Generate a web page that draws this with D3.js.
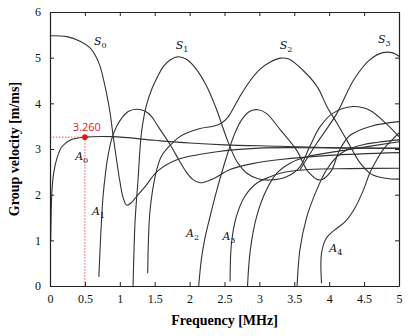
<!DOCTYPE html>
<html><head><meta charset="utf-8">
<script src="https://cdn.jsdelivr.net/npm/d3@7"></script>
<style>body{margin:0;background:#fff}</style>
</head><body>
<svg id="c" width="413" height="336"></svg>
<script>
// ---- data (frequency MHz, group velocity m/ms) ----
const xTicks = [0, 0.5, 1, 1.5, 2, 2.5, 3, 3.5, 4, 4.5, 5];
const yTicks = [0, 1, 2, 3, 4, 5, 6];
const A0 = [[0.01,1.0],[0.015,1.45],[0.025,2.0],[0.05,2.45],[0.1,2.8],[0.17,3.05],[0.3,3.2],[0.5,3.26],[0.9,3.27],[1.5,3.19],[2.0,3.13],[2.5,3.09],[3.3,3.06],[4,3.03],[5,3.02]];
const S0 = [[0,5.48],[0.24,5.46],[0.43,5.36],[0.57,5.22],[0.66,5.02],[0.72,4.8],[0.81,4.22],[0.86,3.8],[0.9,3.34],[0.95,2.8],[1.0,2.3],[1.05,1.92],[1.1,1.77],[1.17,1.83],[1.24,1.96],[1.36,2.17],[1.53,2.5],[1.81,2.76],[2.39,2.94],[3.0,3.02],[3.5,3.03],[5,3.01]];
const A1 = [[0.70,0.2],[0.72,0.9],[0.74,1.5],[0.76,1.96],[0.79,2.4],[0.82,2.75],[0.88,3.2],[0.95,3.48],[1.03,3.68],[1.12,3.82],[1.24,3.87],[1.36,3.83],[1.45,3.72],[1.55,3.49],[1.72,3.1],[1.85,2.75],[1.95,2.5],[2.05,2.33],[2.15,2.26],[2.34,2.35],[2.58,2.55],[2.9,2.68],[3.3,2.77],[4,2.86],[5,2.92]];
const S1 = [[1.19,0],[1.2,0.6],[1.22,1.45],[1.26,2.3],[1.31,3.35],[1.38,3.95],[1.46,4.32],[1.53,4.55],[1.62,4.8],[1.72,4.95],[1.84,5.02],[1.96,4.96],[2.1,4.74],[2.25,4.36],[2.39,3.85],[2.54,3.2],[2.68,2.72],[2.82,2.47],[2.98,2.35],[3.15,2.32],[3.39,2.39],[3.58,2.61],[3.72,3.05],[3.87,3.49],[4.05,3.78],[4.34,3.93],[4.58,3.85],[4.82,3.55],[5.0,3.27]];
const S2 = [[1.40,0.28],[1.41,1.0],[1.43,1.6],[1.47,2.1],[1.53,2.55],[1.6,2.85],[1.72,3.08],[1.85,3.26],[1.96,3.35],[2.15,3.45],[2.34,3.5],[2.45,3.56],[2.55,3.7],[2.72,4.15],[2.87,4.5],[3.01,4.75],[3.15,4.9],[3.3,4.99],[3.42,4.97],[3.62,4.73],[3.83,4.36],[3.97,3.92],[4.11,3.57],[4.25,3.2],[4.44,2.7],[4.6,2.45],[4.8,2.36],[5.0,2.34]];
const S3 = [[3.58,2.54],[3.82,3.12],[4.11,3.78],[4.35,4.51],[4.58,4.95],[4.77,5.11],[4.92,5.1],[5.0,5.03]];
const A2 = [[2.13,0],[2.17,0.6],[2.22,1.05],[2.29,1.5],[2.39,2.1],[2.53,2.83],[2.65,3.35],[2.75,3.65],[2.87,3.83],[2.98,3.86],[3.1,3.78],[3.3,3.42],[3.53,2.98],[3.7,2.5],[3.87,2.32],[4.02,2.5],[4.15,2.98],[4.3,3.3],[4.6,3.5],[5,3.6]];
const A3 = [[2.58,0.1],[2.6,0.93],[2.67,1.52],[2.79,1.96],[2.96,2.25],[3.15,2.39],[3.3,2.47],[3.7,2.55],[4.3,2.57],[5,2.58]];
const M5 = [[2.83,0],[2.87,0.79],[2.96,1.52],[3.1,2.1],[3.25,2.47],[3.44,2.69],[3.68,2.83],[4.25,2.98],[5,3.16]];
const M6 = [[3.54,0],[3.58,0.79],[3.68,1.52],[3.82,2.1],[3.96,2.54],[4.11,2.83],[4.25,2.98],[4.5,3.1],[5,3.2]];
const A4 = [[3.89,0.06],[3.89,0.72],[3.96,1.05],[4.08,1.23],[4.23,1.41],[4.35,1.66],[4.49,2.1],[4.58,2.47],[4.68,2.76],[4.77,2.98],[4.9,3.2],[5,3.35]];
const modes = [A0, S0, A1, S1, S2, S3, A2, A3, M5, M6, A4];
const labels = [["S","0",0.63,5.27],["S","1",1.8,5.18],["S","2",3.29,5.2],["S","3",4.7,5.33],["A","0",0.36,2.75],["A","1",0.6,1.55],["A","2",1.95,1.08],["A","3",2.47,1.0],["A","4",4.0,0.75]];
const marker = [0.5, 3.26];
const markerText = "3.260";

// ---- chart ----
const svg = d3.select("#c");
const m = {l:50, r:14, t:12, b:50};
const W = 413, H = 336;
const x = d3.scaleLinear().domain([0,5]).range([m.l, W-m.r]);
const y = d3.scaleLinear().domain([0,6]).range([H-m.b, m.t]);
const serif = "'Liberation Serif','DejaVu Serif',serif";

const line = d3.line().x(d=>x(d[0])).y(d=>y(d[1])).curve(d3.curveCatmullRom.alpha(0.5));
svg.append("g").selectAll("path").data(modes).join("path")
  .attr("d", line).attr("fill","none").attr("stroke","#333").attr("stroke-width",1.1);

// red marker
svg.append("line").attr("x1",x(0)).attr("x2",x(marker[0])).attr("y1",y(marker[1])).attr("y2",y(marker[1]))
  .attr("stroke","#e03030").attr("stroke-width",0.8).attr("stroke-dasharray","1.5,1.5");
svg.append("line").attr("x1",x(marker[0])).attr("x2",x(marker[0])).attr("y1",y(marker[1])).attr("y2",y(0))
  .attr("stroke","#e03030").attr("stroke-width",0.8).attr("stroke-dasharray","1.5,1.5");
svg.append("circle").attr("cx",x(marker[0])).attr("cy",y(marker[1])).attr("r",2.8).attr("fill","#e01818");
svg.append("text").attr("x",x(marker[0])+2).attr("y",y(marker[1])-6).attr("text-anchor","middle")
  .attr("font-family","'Open Sans','Liberation Sans',sans-serif").attr("font-size",11).attr("fill","#e02020").text(markerText);

// axes frame + ticks
const g = svg.append("g");
g.append("g").attr("transform",`translate(0,${y(0)})`).call(d3.axisBottom(x).tickValues(xTicks).tickSizeInner(-4).tickSizeOuter(0).tickPadding(8).tickFormat(d=>d));
g.append("g").attr("transform",`translate(0,${y(6)})`).call(d3.axisTop(x).tickValues(xTicks).tickSizeInner(-4).tickSizeOuter(0).tickFormat(""));
g.append("g").attr("transform",`translate(${x(0)},0)`).call(d3.axisLeft(y).tickValues(yTicks).tickSizeInner(-4).tickSizeOuter(0).tickPadding(9).tickFormat(d=>d));
g.append("g").attr("transform",`translate(${x(5)},0)`).call(d3.axisRight(y).tickValues(yTicks).tickSizeInner(-4).tickSizeOuter(0).tickFormat(""));
g.selectAll(".domain").attr("stroke","#222").attr("stroke-width",1.2);
g.selectAll(".tick line").attr("stroke","#222");
g.selectAll(".tick text").attr("font-family",serif).attr("font-size",12).attr("fill","#111");

// axis titles
svg.append("text").attr("x",(x(0)+x(5))/2).attr("y",325).attr("text-anchor","middle")
  .attr("font-family",serif).attr("font-weight","bold").attr("font-size",14).text("Frequency [MHz]");
svg.append("text").attr("transform",`translate(19,${(y(0)+y(6))/2}) rotate(-90)`).attr("text-anchor","middle")
  .attr("font-family",serif).attr("font-weight","bold").attr("font-size",14).text("Group velocity [m/ms]");

// mode labels
const lt = svg.append("g").selectAll("text").data(labels).join("text")
  .attr("x",d=>x(d[2])).attr("y",d=>y(d[3])).attr("font-family","'DejaVu Serif',serif").attr("font-style","italic").attr("font-size",11).attr("fill","#111");
lt.append("tspan").text(d=>d[0]);
lt.append("tspan").attr("font-size",8).attr("dy",3).attr("font-style","normal").text(d=>d[1]);
</script>
</body></html>
